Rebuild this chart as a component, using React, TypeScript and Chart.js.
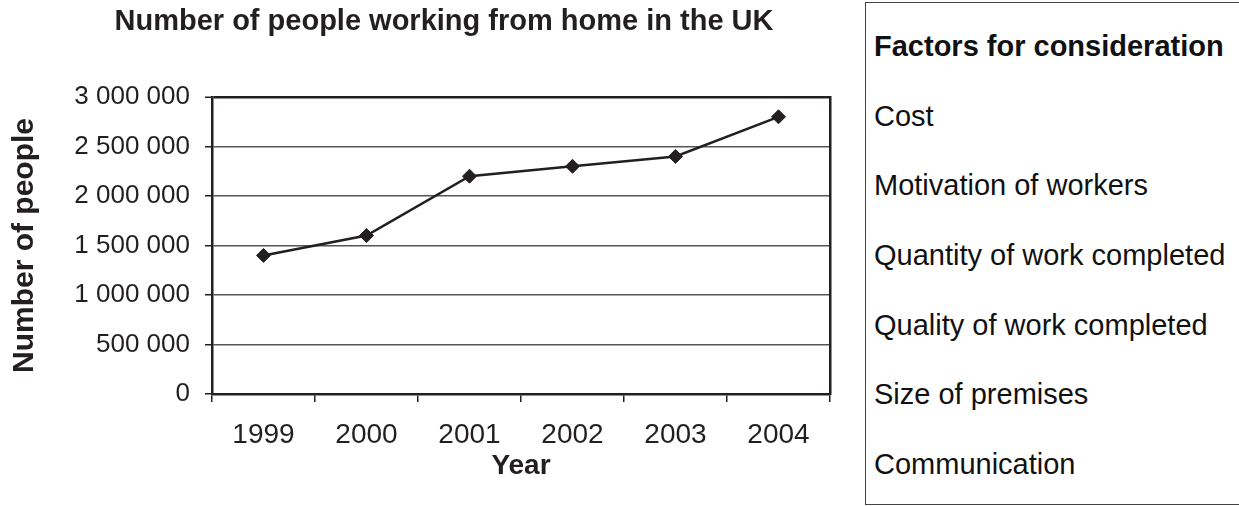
import React, { useEffect, useRef } from "react";
import { Chart, registerables } from "chart.js";

Chart.register(...registerables);

const years = ["1999", "2000", "2001", "2002", "2003", "2004"];
const peopleWorkingFromHome = [1400000, 1600000, 2200000, 2300000, 2400000, 2800000];
const yMin = 0;
const yMax = 3000000;
const yStep = 500000;
const chartTitle = "Number of people working from home in the UK";
const xAxisTitle = "Year";
const yAxisTitle = "Number of people";
const factorsHeading = "Factors for consideration";
const factors = [
  "Cost",
  "Motivation of workers",
  "Quantity of work completed",
  "Quality of work completed",
  "Size of premises",
  "Communication",
];

const FONT = "'Liberation Sans', Arial, Helvetica, sans-serif";
const TEXT = "#231f20";
const GRID = "#555555";

function formatTick(v: number | string): string {
  const n = Number(v);
  if (n === 0) return "0";
  return String(Math.round(n)).replace(/\B(?=(\d{3})+(?!\d))/g, " ");
}

export default function App() {
  const canvasRef = useRef<HTMLCanvasElement | null>(null);

  useEffect(() => {
    if (!canvasRef.current) return;
    const chart = new Chart(canvasRef.current, {
      type: "line",
      data: {
        labels: years,
        datasets: [
          {
            data: peopleWorkingFromHome,
            borderColor: TEXT,
            borderWidth: 2.5,
            backgroundColor: TEXT,
            pointStyle: "rectRot",
            pointRadius: 7,
            pointBackgroundColor: TEXT,
            pointBorderColor: TEXT,
            pointBorderWidth: 1,
            tension: 0,
            fill: false,
            clip: false as any,
          },
        ],
      },
      options: {
        animation: false,
        responsive: false,
        maintainAspectRatio: false,
        layout: { padding: 0 },
        plugins: {
          legend: { display: false },
          tooltip: { enabled: false },
          title: {
            display: true,
            text: chartTitle,
            color: TEXT,
            font: { family: FONT, size: 29, weight: "bold" },
            padding: { top: 5, bottom: 57.2 },
          },
        },
        scales: {
          x: {
            type: "category",
            offset: true,
            ticks: {
              color: TEXT,
              font: { family: FONT, size: 28 },
              padding: 16,
              maxRotation: 0,
              autoSkip: false,
            },
            grid: {
              drawOnChartArea: false,
              drawTicks: true,
              tickLength: 8,
              color: TEXT,
              lineWidth: 1.5,
              offset: true,
            },
            border: { display: true, color: TEXT, width: 2.5 },
            title: {
              display: true,
              text: xAxisTitle,
              color: TEXT,
              font: { family: FONT, size: 28, weight: "bold" },
              padding: { top: 0, bottom: 23 },
            },
            afterFit: (s: any) => {
              s.height = 112;
            },
          },
          y: {
            type: "linear",
            position: "left",
            min: yMin,
            max: yMax,
            ticks: {
              stepSize: yStep,
              color: TEXT,
              font: { family: FONT, size: 26 },
              padding: 15,
              callback: (v: any) => formatTick(v),
            },
            grid: {
              color: (ctx: any) => (ctx.tick && ctx.tick.value === yMax ? TEXT : GRID),
              lineWidth: (ctx: any) => (ctx.tick && ctx.tick.value === yMax ? 2.5 : 1.5),
              tickLength: 7,
              tickColor: TEXT,
              tickWidth: 1.5,
            },
            border: { display: true, color: TEXT, width: 2.5 },
            title: {
              display: true,
              text: yAxisTitle,
              color: TEXT,
              font: { family: FONT, size: 30, weight: "bold" },
              padding: { top: 7, bottom: 0 },
            },
            afterFit: (s: any) => {
              s.width = 212;
            },
          },
          yRight: {
            type: "linear",
            position: "right",
            display: true,
            min: yMin,
            max: yMax,
            ticks: { display: false },
            grid: { drawOnChartArea: false, drawTicks: false },
            border: { display: true, color: TEXT, width: 2.5 },
            afterFit: (s: any) => {
              s.width = 58;
            },
          },
        },
      } as any,
    });
    return () => chart.destroy();
  }, []);

  const lineCenters = [0, 1, 2, 3, 4, 5, 6].map((i) => 43 + i * 69.67);

  return (
    <div
      style={{
        position: "fixed",
        left: 0,
        top: 0,
        width: 1239,
        height: 506,
        overflow: "hidden",
        background: "#ffffff",
        fontFamily: FONT,
      }}
    >
      <canvas
        ref={canvasRef}
        width={888}
        height={506}
        style={{ position: "absolute", left: 0, top: 0, width: 888, height: 506 }}
      />
      <div
        style={{
          position: "absolute",
          left: 865,
          top: 2,
          width: 400,
          height: 503,
          boxSizing: "border-box",
          border: "1.5px solid #444444",
          background: "#ffffff",
          color: "#111111",
        }}
      >
        {[factorsHeading, ...factors].map((t, i) => (
          <div
            key={t}
            style={{
              position: "absolute",
              left: 8,
              top: lineCenters[i] - 17,
              height: 34,
              lineHeight: "34px",
              fontSize: 29,
              fontWeight: i === 0 ? "bold" : "normal",
              whiteSpace: "nowrap",
            }}
          >
            {t}
          </div>
        ))}
      </div>
    </div>
  );
}
